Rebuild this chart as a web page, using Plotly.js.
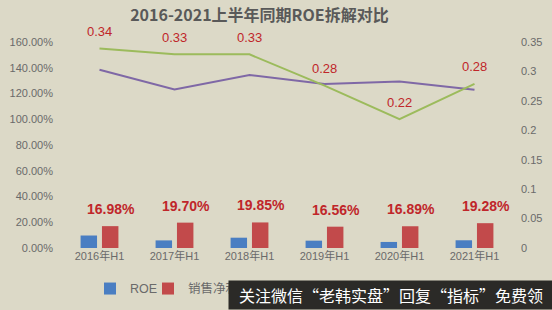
<!DOCTYPE html>
<html>
<head>
<meta charset="utf-8">
<script src="https://cdn.plot.ly/plotly-3.0.1.min.js"></script>
<style>html,body{margin:0;padding:0;background:#dcd9c7;}#chart{width:552px;height:310px;}</style>
</head>
<body>
<div id="chart"></div>
<script>
const categories = ['2016年H1','2017年H1','2018年H1','2019年H1','2020年H1','2021年H1'];
const roe = [0.097, 0.059, 0.080, 0.057, 0.047, 0.060];
const netMargin = [0.1698, 0.1970, 0.1985, 0.1656, 0.1689, 0.1928];
const assetTurnover = [0.339, 0.329, 0.329, 0.276, 0.219, 0.279];
const equityMultiplier = [1.385, 1.232, 1.344, 1.273, 1.294, 1.229];
const tickLeft = [0, 0.2, 0.4, 0.6, 0.8, 1.0, 1.2, 1.4, 1.6];
const tickRight = [0, 0.05, 0.1, 0.15, 0.2, 0.25, 0.3, 0.35];
const tickRightText = ['0','0.05','0.1','0.15','0.2','0.25','0.3','0.35'];
const titleText = '2016-2021上半年同期ROE拆解对比';
const watermark = '关注微信“老韩实盘”回复“指标”免费领';

const fontFam = '"Liberation Sans", "Noto Sans CJK SC", sans-serif';
const traces = [
  {type:'bar', name:'ROE', x:categories, y:roe, marker:{color:'#4a7ec2'}, yaxis:'y', legend:'legend'},
  {type:'bar', name:'销售净利率', x:categories, y:netMargin, marker:{color:'#c24a4b'}, yaxis:'y', legend:'legend2'},
  {type:'scatter', mode:'lines', name:'总资产周转率', x:categories, y:assetTurnover, line:{color:'#9cbb5c', width:2}, yaxis:'y2', showlegend:false},
  {type:'scatter', mode:'lines', name:'权益乘数', x:categories, y:equityMultiplier, line:{color:'#7f68a6', width:2}, yaxis:'y', showlegend:false}
];

const annotations = [];
categories.forEach((c,i)=>{
  annotations.push({x:c, y:netMargin[i], xref:'x', yref:'y', text:(netMargin[i]*100).toFixed(2)+'%',
    showarrow:false, yshift:17, xshift:11, font:{family:'"Liberation Sans", sans-serif', size:14, color:'#c0262a', weight:'bold'}});
  annotations.push({x:c, y:assetTurnover[i], xref:'x', yref:'y2', text:assetTurnover[i].toFixed(2),
    showarrow:false, yshift:17, font:{family:'"Liberation Sans", sans-serif', size:13, color:'#c0262a'}});
});
annotations.push({text:watermark, xref:'paper', yref:'paper', x:0.369, y:-0.301, xanchor:'left', yanchor:'bottom',
  width:324, height:28, borderpad:0, showarrow:false, bgcolor:'#2b2a27', align:'center',
  font:{family:'"Noto Sans CJK SC", sans-serif', size:16, color:'#ffffff'}});

const legendBase = {orientation:'h', xref:'container', yref:'container', y:0.068, xanchor:'left', yanchor:'middle',
  bgcolor:'rgba(0,0,0,0)', font:{family:fontFam, size:12.5, color:'#6a6a6a'}, itemwidth:30};

const layout = {
  width:552, height:310,
  margin:{l:62, r:40, t:42, b:62},
  paper_bgcolor:'#dcd9c7', plot_bgcolor:'#dcd9c7',
  title:{text:titleText, x:0.47, xanchor:'center', y:0.95, yanchor:'middle',
    font:{family:'"Noto Sans CJK SC", sans-serif', size:16, color:'#595959', weight:'bold'}},
  barmode:'group', bargap:0.43, bargroupgap:0.23,
  showlegend:true,
  legend:Object.assign({}, legendBase, {x:90/552}),
  legend2:Object.assign({}, legendBase, {x:148/552}),
  xaxis:{tickfont:{family:fontFam, size:11, color:'#6a6a6a'}, showgrid:false, showline:false, zeroline:false, ticks:''},
  yaxis:{range:[0,1.6], tickvals:tickLeft, tickformat:'.2%', showgrid:false, zeroline:false, showline:false,
    tickfont:{family:fontFam, size:11, color:'#6a6a6a'}, ticklabelstandoff:8},
  yaxis2:{range:[0,0.35], overlaying:'y', side:'right', tickvals:tickRight, ticktext:tickRightText,
    showgrid:false, zeroline:false, showline:false, tickfont:{family:fontFam, size:11, color:'#6a6a6a'}, ticklabelstandoff:8},
  annotations:annotations
};
Plotly.newPlot('chart', traces, layout, {displayModeBar:false, staticPlot:true});
</script>
</body>
</html>
